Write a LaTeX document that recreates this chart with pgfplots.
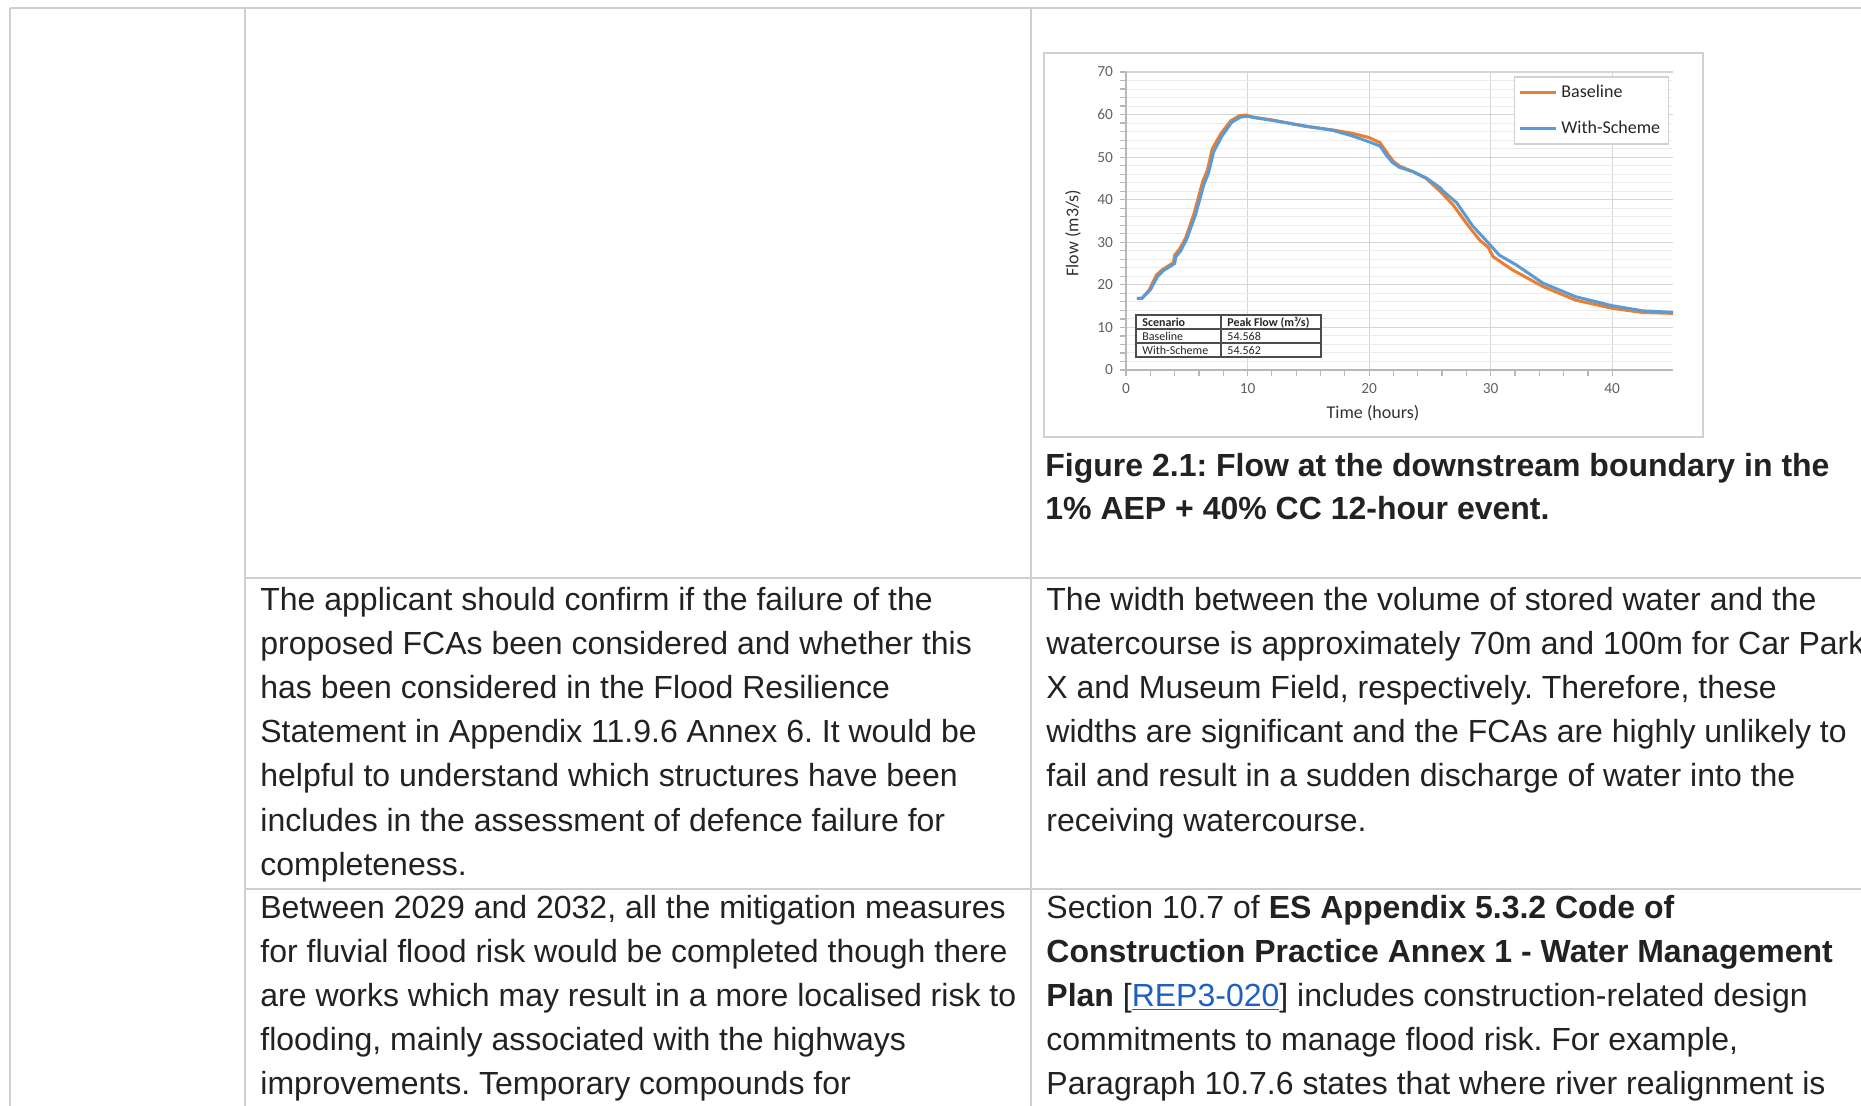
\documentclass[border=0pt]{standalone}
\usepackage{pgfplots}
\pgfplotsset{compat=1.18}
\usepackage{fontspec}
\setmainfont{Liberation Sans}
\newfontfamily\calibri{Carlito}
\definecolor{xlorange}{HTML}{ED7D31}
\definecolor{xlblue}{HTML}{5B9BD5}
\definecolor{rule}{HTML}{CFCFCF}
\definecolor{body}{HTML}{222222}
\definecolor{link}{HTML}{1F5FC4}
\frenchspacing
\begin{document}
\begin{tikzpicture}
\useasboundingbox (0pt,0pt) rectangle (930.5pt,-553pt);
\clip (0pt,0pt) rectangle (930.5pt,-553pt);
\fill[white] (0pt,0pt) rectangle (930.5pt,-553pt);
\begin{scope}[x=0.5pt,y=-0.5pt]
% table rules
\draw[rule, line width=1pt] (10,8) -- (1861,8);
\draw[rule, line width=1pt] (10,8) -- (10,1106);
\draw[rule, line width=1pt] (245,8) -- (245,1106);
\draw[rule, line width=1pt] (1031,8) -- (1031,1106);
\draw[rule, line width=1pt] (245,578) -- (1861,578);
\draw[rule, line width=1pt] (245,889) -- (1861,889);
% chart frame
\draw[black!18, line width=0.8pt] (1044,53) rectangle (1703,437);
\end{scope}

\begin{axis}[
  at={(563pt,-185pt)}, anchor=south west,
  scale only axis, width=273.5pt, height=149pt,
  xmin=0, xmax=45, ymin=0, ymax=70,
  xtick={0,10,20,30,40}, ytick={0,10,20,30,40,50,60,70},
  minor tick num=4,
  axis lines*=left,
  axis line style={draw=black!28, line width=0.6pt},
  tick style={draw=black!28, line width=0.6pt},
  tick align=outside, major tick length=3pt, minor tick length=3pt,
  xmajorgrids, ymajorgrids, yminorgrids,
  major grid style={draw=black!16, line width=0.6pt},
  minor grid style={draw=black!8, line width=0.5pt},
  ticklabel style={font=\calibri\fontsize{7.7}{9}\selectfont, text=black!62},
  /pgf/number format/assume math mode=true,
  xlabel={Time (hours)}, ylabel={Flow (m3/s)},
  label style={font=\calibri\fontsize{9}{11}\selectfont, text=black!80},
  xlabel style={at={(axis description cs:0.4516,-0.1443)}, anchor=center},
  ylabel style={at={(axis description cs:-0.0969,0.4597)}, anchor=center},
  legend style={at={(axis description cs:0.709,0.985)}, anchor=north west,
    draw=black!18, line width=0.6pt, font=\calibri\fontsize{9}{11}\selectfont,
    text=black!85, inner xsep=2pt, inner ysep=2pt, row sep=6pt,
    cells={anchor=west}},
  legend image code/.code={\draw[#1, line width=1.5pt] (0pt,0pt) -- (18pt,0pt);},
]
\addplot[xlorange, line width=1.5pt] coordinates {
(0.9,16.8) (1.3,16.8) (1.9,18.8) (2.5,22.3) (3.0,23.6) (3.9,25.2) (4.0,27.0)
(4.4,28.4) (4.9,31.0) (5.6,36.8) (6.3,44.2) (6.7,47.0) (7.1,52.0) (7.8,55.5)
(8.6,58.5) (9.3,59.7) (9.8,59.9) (10.5,59.4) (12.1,58.7) (14.8,57.2) (17.0,56.4)
(18.6,55.6) (20.0,54.6) (20.9,53.4) (21.6,50.5) (22.0,49.0) (22.5,47.9) (23.6,46.6)
(24.7,45.0) (25.6,42.6) (25.9,41.8) (26.9,38.8) (28.2,33.7) (29.1,30.5) (29.8,28.8)
(30.2,26.6) (31.8,23.5) (34.3,19.6) (37.0,16.4) (40.0,14.5) (42.5,13.5) (45.0,13.3)
};
\addlegendentry{Baseline}
\addplot[xlblue, line width=1.5pt] coordinates {
(0.9,16.8) (1.3,16.8) (2.0,18.8) (2.6,22.0) (3.1,23.4) (4.0,25.0) (4.1,26.6)
(4.5,28.0) (5.0,30.8) (5.7,36.3) (6.4,43.5) (6.8,46.4) (7.2,51.2) (7.9,55.0)
(8.7,58.2) (9.4,59.4) (10.0,59.6) (10.5,59.3) (12.1,58.6) (14.8,57.3) (17.0,56.3)
(18.6,55.0) (20.0,53.6) (20.9,52.6) (21.4,50.5) (21.9,48.8) (22.5,47.6) (23.6,46.6)
(24.7,45.1) (25.8,42.9) (26.1,42.0) (27.2,39.3) (28.5,33.9) (29.6,30.5) (30.2,28.6)
(30.7,27.0) (32.1,24.7) (34.3,20.4) (37.0,17.2) (40.0,15.1) (42.5,13.9) (45.0,13.55)
};
\addlegendentry{With-Scheme}
\end{axis}

\begin{scope}[x=0.5pt,y=-0.5pt]
% inset table
\fill[white] (1136,315) rectangle (1321,357);
\draw[black!70, line width=0.6pt] (1136,315) rectangle (1321,357);
\draw[black!70, line width=0.6pt] (1136,329) -- (1321,329) (1136,343) -- (1321,343) (1221,315) -- (1221,357);
\begin{scope}[every node/.style={anchor=west, inner sep=0pt, font=\calibri\fontsize{6}{7}\selectfont, text=black!85}]
\node at (1142,322.5) {\bfseries Scenario};
\node at (1227,322.5) {\bfseries Peak Flow (m³/s)};
\node at (1142,336.5) {Baseline};
\node at (1227,336.5) {54.568};
\node at (1142,350.5) {With-Scheme};
\node at (1227,350.5) {54.562};
\end{scope}
% body text
\begin{scope}[every node/.style={anchor=base west, inner sep=0pt, font=\fontsize{16}{22}\selectfont, text=body}]
\node at (1045,476) {\bfseries Figure 2.1: Flow at the downstream boundary in the};
\node at (1045,519) {\bfseries 1\% AEP + 40\% CC 12-hour event.};
\node at (260,610) {The applicant should confirm if the failure of the};
\node at (260,654.2) {proposed FCAs been considered and whether this};
\node at (260,698.4) {has been considered in the Flood Resilience};
\node at (260,742.6) {Statement in Appendix 11.9.6 Annex 6. It would be};
\node at (260,786.8) {helpful to understand which structures have been};
\node at (260,831) {includes in the assessment of defence failure for};
\node at (260,875.2) {completeness.};
\node at (1046,610) {The width between the volume of stored water and the};
\node at (1046,654.2) {watercourse is approximately 70m and 100m for Car Park};
\node at (1046,698.4) {X and Museum Field, respectively. Therefore, these};
\node at (1046,742.6) {widths are significant and the FCAs are highly unlikely to};
\node at (1046,786.8) {fail and result in a sudden discharge of water into the};
\node at (1046,831) {receiving watercourse.};
\node at (260,918) {Between 2029 and 2032, all the mitigation measures};
\node at (260,962.2) {for fluvial flood risk would be completed though there};
\node at (260,1006.4) {are works which may result in a more localised risk to};
\node at (260,1050.6) {flooding, mainly associated with the highways};
\node at (260,1094.8) {improvements. Temporary compounds for};
\node at (1046,918) {Section 10.7 of \textbf{ES Appendix 5.3.2 Code of}};
\node at (1046,962.2) {\bfseries Construction Practice Annex 1 - Water Management};
\node at (1046,1006.4) {\textbf{Plan} [{\color{link}\underline{REP3-020}}] includes construction-related design};
\node at (1046,1050.6) {commitments to manage flood risk. For example,};
\node at (1046,1094.8) {Paragraph 10.7.6 states that where river realignment is};
\end{scope}
\end{scope}
\end{tikzpicture}
\end{document}
